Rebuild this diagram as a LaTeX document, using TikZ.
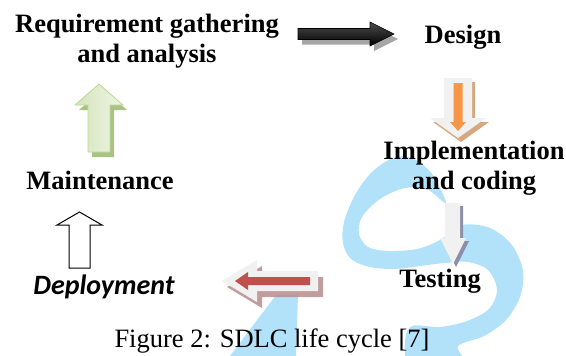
\documentclass[tikz,border=0pt]{standalone}
\usepackage{fontspec}
\setmainfont{Liberation Serif}
\newfontfamily\depfont{Carlito}
\definecolor{wm}{RGB}{178,226,250}
\definecolor{orng}{RGB}{247,150,70}
\definecolor{tanshadow}{RGB}{214,168,128}
\definecolor{redarr}{RGB}{192,80,77}
\definecolor{roseshadow}{RGB}{182,140,140}
\definecolor{grayshadow}{RGB}{140,142,170}
\definecolor{lightg}{RGB}{241,241,241}
\definecolor{greenA}{RGB}{212,229,188}
\definecolor{greenB}{RGB}{238,244,228}
\definecolor{greenedge}{RGB}{190,214,150}
\definecolor{greenshadow}{RGB}{170,194,132}
\begin{document}
\begin{tikzpicture}[x=1pt,y=-1pt,
  lbl/.style={font=\fontsize{26.5}{29.5}\selectfont\bfseries, inner sep=0pt, align=center},
  captionlbl/.style={font=\fontsize{26.5}{29.5}\selectfont, inner sep=0pt},
  deplbl/.style={font=\fontsize{28}{30}\selectfont\depfont\bfseries\itshape, inner sep=0pt}]
\useasboundingbox (0,0) rectangle (566,356);
% watermark
\fill[wm] plot[smooth cycle, tension=0.55] coordinates {
 (446,203) (432,174) (412,158) (393,158) (372,172) (355,195) (344,222) (343,243)
 (351,259) (370,267) (395,269) (420,266) (445,263) (468,262) (488,270) (497,290)
 (489,309) (467,321) (440,327) (412,326) (405,342) (411,362) (462,362) (458,346)
 (484,336) (506,320) (520,297) (523,271) (512,245) (490,228) (462,225) (440,240)
 (417,249) (388,251) (368,247) (359,234) (362,217) (380,199) (405,188) (428,190)};
\fill[wm] (230,356) -- (276,295) -- (298,295) -- (296,356) -- cycle;
% arrow outlines
\def\blackarrow{(298,28.5) -- (370,28.5) -- (370,22) -- (394,34) -- (370,46) -- (370,39.5) -- (298,39.5) -- cycle}
\def\orangeouter{(444,78) -- (472,78) -- (472,118) -- (486,118) -- (458,138) -- (430,118) -- (444,118) -- cycle}
\def\orangeinner{(453.5,83) -- (462.5,83) -- (462.5,122) -- (466,122) -- (458,131) -- (450,122) -- (453.5,122) -- cycle}
\def\grayarrow{(445,203) -- (460,203) -- (460,238) -- (466,238) -- (453,264) -- (440,238) -- (445,238) -- cycle}
\def\redouter{(318,271) -- (257,271) -- (257,260) -- (222,281) -- (257,302) -- (257,291) -- (318,291) -- cycle}
\def\redinner{(310,277) -- (248,277) -- (248,272) -- (235,281) -- (248,290) -- (248,285) -- (310,285) -- cycle}
\def\whitearrow{(69,268) -- (69,225) -- (57,225) -- (79.5,212) -- (102,225) -- (90,225) -- (90,268) -- cycle}
\def\greenarrow{(88,152) -- (88,105) -- (75,105) -- (99,84) -- (123,105) -- (110,105) -- (110,152) -- cycle}
% black arrow
\fill[black!35, shift={(4,5)}] \blackarrow;
\shade[top color=black!70, bottom color=black, draw=black, line width=0.6pt] \blackarrow;
% orange arrow
\fill[tanshadow, shift={(3,4)}] \orangeouter;
\fill[lightg] \orangeouter;
\fill[orng] \orangeinner;
% gray arrow
\fill[grayshadow, shift={(3,3)}] \grayarrow;
\fill[lightg] \grayarrow;
% red arrow
\fill[roseshadow, opacity=0.85, shift={(5,6)}] \redouter;
\fill[lightg] \redouter;
\fill[redarr] \redinner;
% white outline arrow
\draw[black, fill=white, line width=1pt] \whitearrow;
% green arrow
\fill[greenshadow, shift={(4,5)}] \greenarrow;
\shade[left color=greenA, right color=greenB, draw=greenedge, line width=0.8pt] \greenarrow;
% labels
\node[lbl, anchor=base] (req) at (147,62) {Requirement gathering\\and analysis};
\node[lbl, anchor=base] (des) at (463,43) {Design};
\node[lbl, anchor=base] (imp) at (474,189) {Implementation\\and coding};
\node[lbl, anchor=base] (tes) at (440,287) {Testing};
\node[deplbl, anchor=base] (dep) at (104,294) {Deployment};
\node[lbl, anchor=base] (mai) at (100,189) {Maintenance};
\node[captionlbl, anchor=base] (fig) at (272,347) {Figure 2: SDLC life cycle [7]};
\end{tikzpicture}
\end{document}
